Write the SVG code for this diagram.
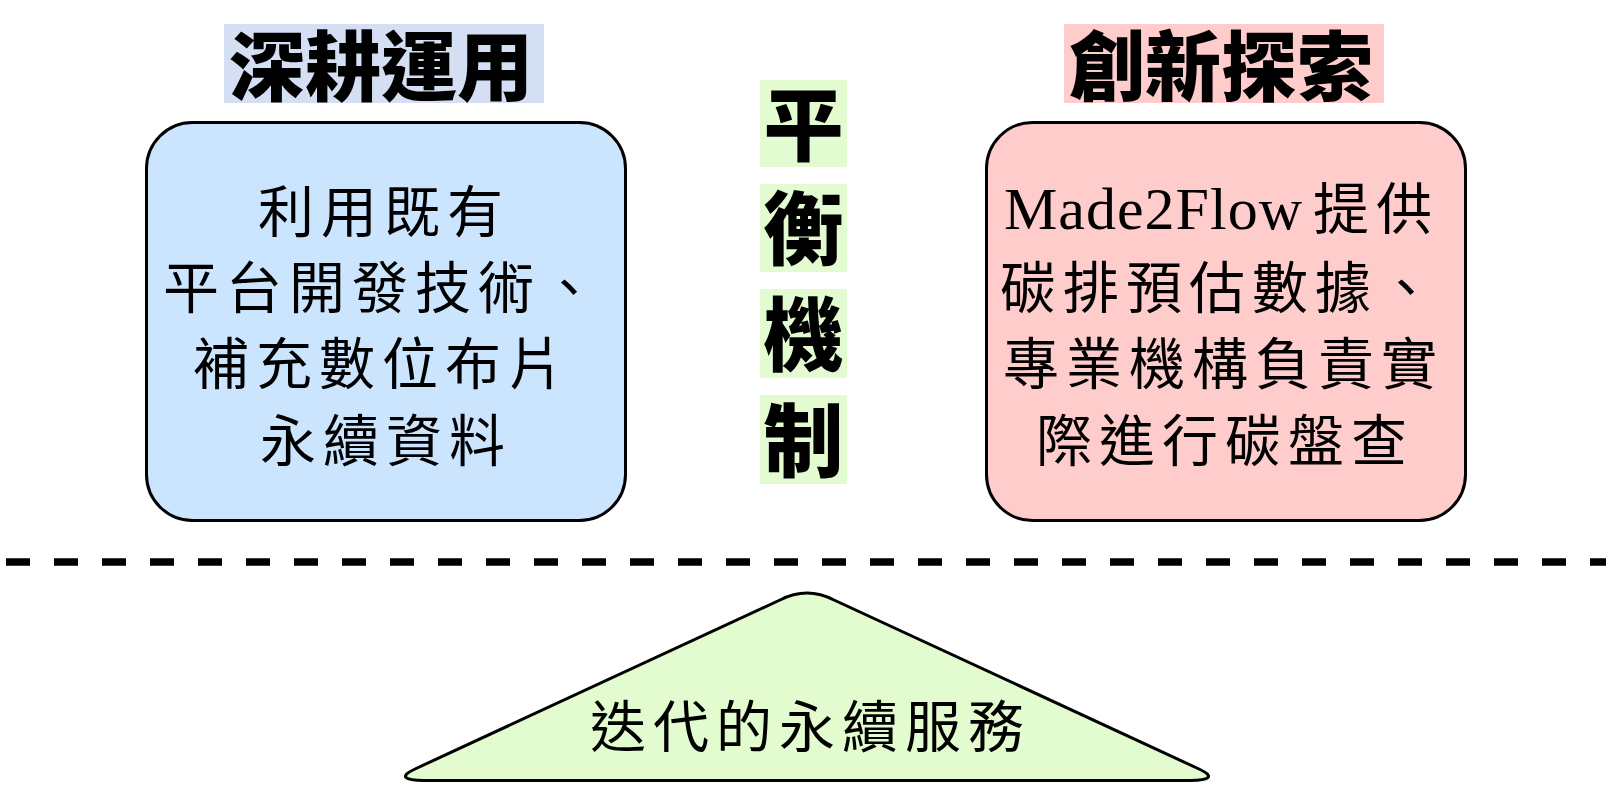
<svg xmlns="http://www.w3.org/2000/svg" width="1612" height="812" viewBox="0 0 1612 812">
<style>
.title{font-family:"Noto Sans CJK TC","Noto Sans CJK SC",sans-serif;font-weight:900;fill:#000}
.t76{font-size:76px}
.t80{font-size:80px}
.body{font-family:"Liberation Serif","Noto Sans CJK TC",serif;font-size:56px;letter-spacing:7px;fill:#000}
.latin{font-size:60px;letter-spacing:1px}
.tri{font-family:"Noto Sans CJK TC",sans-serif;font-size:56px;letter-spacing:7px;fill:#000}
.box{stroke:#000;stroke-width:3}
</style>
<rect width="1612" height="812" fill="#fff"/>
<g id="title-left">
<rect x="224" y="24" width="320" height="79" fill="#D5DFF3"/>
<text class="title t76" x="229" y="95">深耕運用</text>
</g>
<g id="box-left">
<rect class="box" x="146.5" y="122.5" width="479" height="398" rx="46" fill="#CCE5FF"/>
<text class="body" x="258" y="232">利用既有</text>
<text class="body" x="163" y="308">平台開發技術、</text>
<text class="body" x="193" y="384">補充數位布片</text>
<text class="body" x="260" y="461">永續資料</text>
</g>
<g id="title-right">
<rect x="1064" y="24" width="320" height="79" fill="#FFCCCC"/>
<text class="title t76" x="1069" y="95">創新探索</text>
</g>
<g id="box-right">
<rect class="box" x="986.5" y="122.5" width="479" height="398" rx="46" fill="#FFCCCC"/>
<text class="body" x="1004" y="229"><tspan class="latin">Made2Flow</tspan><tspan dx="10">提供</tspan></text>
<text class="body" x="1000" y="308">碳排預估數據、</text>
<text class="body" x="1003" y="384">專業機構負責實</text>
<text class="body" x="1036" y="461">際進行碳盤查</text>
</g>
<g id="balance">
<rect x="760" y="80" width="87" height="87" fill="#E3FBD0"/>
<rect x="760" y="184" width="87" height="88" fill="#E3FBD0"/>
<rect x="760" y="289" width="87" height="89" fill="#E3FBD0"/>
<rect x="760" y="395" width="87" height="89" fill="#E3FBD0"/>
<text class="title t80" text-anchor="middle"><tspan x="803.5" y="154">平</tspan><tspan x="803.5" y="258">衡</tspan><tspan x="803.5" y="364">機</tspan><tspan x="803.5" y="470">制</tspan></text>
</g>
<g id="connectors">
<line x1="6" y1="562" x2="1606" y2="562" stroke="#000" stroke-width="7.5" stroke-dasharray="24 24"/>
</g>
<g id="triangle">
<path d="M 780,600 L 415,769 C 399,776.4 404,780.5 424,780.5 L 1190,780.5 C 1210,780.5 1215,776.4 1199,769 L 834,600 Q 807,586 780,600 Z" fill="#E2FCCF" stroke="#000" stroke-width="3" stroke-linejoin="round"/>
<text class="tri" x="810.5" y="747" text-anchor="middle">迭代的永續服務</text>
</g>
</svg>
